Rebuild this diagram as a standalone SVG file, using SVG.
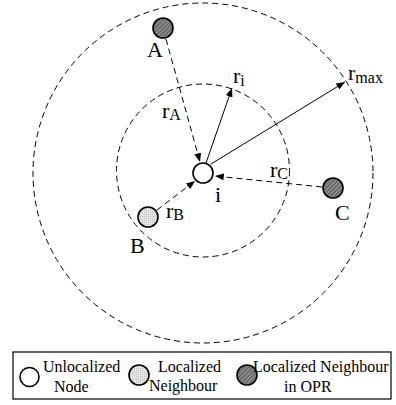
<svg xmlns="http://www.w3.org/2000/svg" width="396" height="405" viewBox="0 0 396 405">
<style>
text{font-family:"Liberation Serif","Times New Roman",serif;fill:#000}
.lbl{font-size:22px}
.sub{font-size:16px}
.leg{font-size:16px}
.range{fill:none;stroke:#000;stroke-width:1;stroke-dasharray:6 4}
.dash{fill:none;stroke:#000;stroke-width:1;stroke-dasharray:6 4}
.solid{fill:none;stroke:#000;stroke-width:1}
.node{stroke:#000;stroke-width:1.6}
.un{fill:#fff}
.loc{fill:url(#dots)}
.opr{fill:url(#hatch)}
</style>
<defs>
<pattern id="hatch" width="3" height="3" patternUnits="userSpaceOnUse" patternTransform="rotate(45)">
<rect width="3" height="3" fill="#8a8a8a"/>
<rect width="1" height="3" fill="#5a5a5a"/>
</pattern>
<pattern id="dots" width="2" height="2" patternUnits="userSpaceOnUse">
<rect width="2" height="2" fill="#e4e4e4"/>
<rect width="1" height="1" fill="#c4c4c4"/>
</pattern>
<marker id="ah" viewBox="0 0 10 8" refX="10" refY="4" markerWidth="9" markerHeight="7" markerUnits="userSpaceOnUse" orient="auto">
<path d="M0,0 L10,4 L0,8 Z" fill="#000"/>
</marker>
</defs>
<g id="ranges">
<circle class="range" cx="203" cy="173" r="170"/>
<circle class="range" cx="203" cy="170.5" r="86.5"/>
</g>
<g id="connectors">
<line class="dash" x1="166" y1="39" x2="200" y2="162" marker-end="url(#ah)"/>
<line class="dash" x1="157" y1="210" x2="195" y2="181" marker-end="url(#ah)"/>
<line class="dash" x1="322" y1="187" x2="215" y2="176" marker-end="url(#ah)"/>
<line class="solid" x1="206" y1="163" x2="232" y2="88" marker-end="url(#ah)"/>
<line class="solid" x1="211" y1="164" x2="345" y2="82" marker-end="url(#ah)"/>
</g>
<g id="labels">
<text class="lbl" x="162" y="118">r<tspan class="sub" dx="0" dy="2">A</tspan></text>
<text class="lbl" x="233" y="83">r<tspan class="sub" dy="3">i</tspan></text>
<text class="lbl" x="348" y="80">r<tspan class="sub" dy="3">max</tspan></text>
<text class="lbl" x="166" y="218">r<tspan class="sub" dy="2">B</tspan></text>
<text class="lbl" x="270" y="177">r<tspan class="sub" dy="2">C</tspan></text>
</g>
<g id="node-i">
<circle class="node un" cx="203" cy="173" r="10"/>
<text class="lbl" x="215" y="202">i</text>
</g>
<g id="node-A">
<circle class="node opr" cx="163" cy="28" r="10"/>
<text class="lbl" x="147" y="57">A</text>
</g>
<g id="node-B">
<circle class="node loc" cx="148" cy="217" r="10"/>
<text class="lbl" x="130" y="253">B</text>
</g>
<g id="node-C">
<circle class="node opr" cx="333" cy="188" r="10"/>
<text class="lbl" x="335" y="220">C</text>
</g>
<g id="legend">
<rect x="13" y="352" width="378" height="47" fill="#fff" stroke="#000" stroke-width="1.2"/>
<circle class="node un" cx="29.5" cy="377" r="9.5"/>
<text class="leg" x="43" y="372">Unlocalized</text>
<text class="leg" x="54" y="392">Node</text>
<circle class="node loc" cx="139" cy="375" r="10"/>
<text class="leg" x="158" y="372">Localized</text>
<text class="leg" x="149" y="391">Neighbour</text>
<circle class="node opr" cx="247" cy="375" r="10"/>
<text class="leg" x="253" y="372">Localized Neighbour</text>
<text class="leg" x="284" y="392">in OPR</text>
</g>
</svg>
